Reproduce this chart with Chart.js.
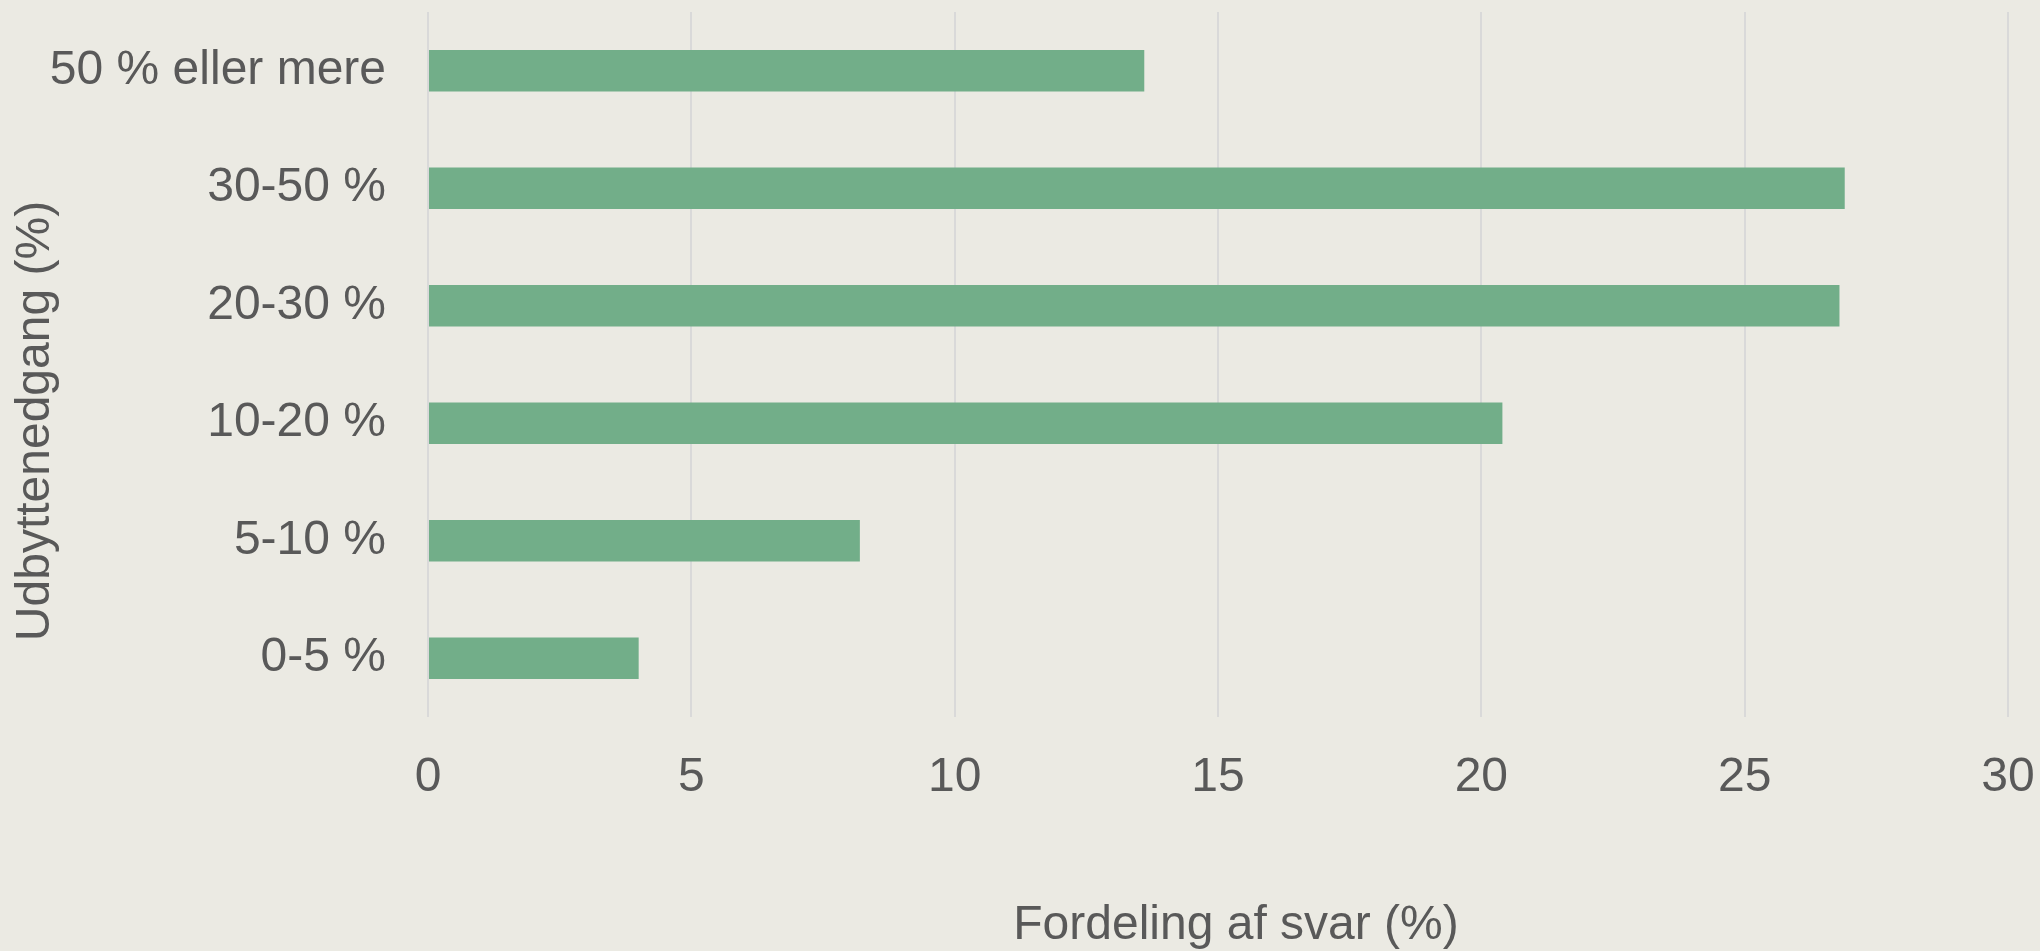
<!DOCTYPE html>
<html>
<head>
<meta charset="utf-8">
<script src="https://cdn.jsdelivr.net/npm/chart.js@4"></script>
<style>
  html, body { margin: 0; padding: 0; background: #ebeae3; }
  #wrap { width: 2040px; height: 951px; }
</style>
</head>
<body>
<div id="wrap"><canvas id="myChart" width="2040" height="951"></canvas></div>
<script>
const categories = ['50 % eller mere', '30-50 %', '20-30 %', '10-20 %', '5-10 %', '0-5 %'];
const shares = [13.6, 26.9, 26.8, 20.4, 8.2, 4.0];
const xTicks = [0, 5, 10, 15, 20, 25, 30];
const xTitle = 'Fordeling af svar (%)';
const yTitle = 'Udbyttenedgang (%)';

const textColor = '#595959';
const fontFamily = '"Liberation Sans", Arial, sans-serif';

// axis titles drawn by hand so they sit where the original has them
const axisTitlePlugin = {
  id: 'axisTitles',
  afterDraw(chart) {
    const ctx = chart.ctx;
    ctx.save();
    ctx.font = '48px ' + fontFamily;
    ctx.fillStyle = textColor;
    ctx.textAlign = 'center';
    ctx.textBaseline = 'middle';
    ctx.fillText(xTitle, 1236, 926);
    ctx.translate(36, 421);
    ctx.rotate(-Math.PI / 2);
    ctx.fillText(yTitle, 0, 0);
    ctx.restore();
  }
};

Chart.defaults.font.family = fontFamily;
Chart.defaults.color = textColor;

const ctx = document.getElementById('myChart').getContext('2d');
new Chart(ctx, {
  type: 'bar',
  data: {
    labels: categories,
    datasets: [{
      data: shares,
      backgroundColor: '#72ae89',
      borderWidth: 0,
      categoryPercentage: 1,
      barPercentage: 0.354
    }]
  },
  options: {
    indexAxis: 'y',
    responsive: false,
    animation: false,
    layout: { padding: { top: 12, right: 32, bottom: 0, left: 12 } },
    plugins: {
      legend: { display: false },
      tooltip: { enabled: false }
    },
    scales: {
      x: {
        min: 0,
        max: 30,
        afterBuildTicks(scale) {
          scale.ticks = xTicks.map(v => ({ value: v }));
        },
        afterFit(scale) {
          scale.height = 234;
          scale.paddingLeft = 0;
          scale.paddingRight = 0;
        },
        grid: { color: '#d9d9d9', lineWidth: 2, drawTicks: false },
        border: { display: false },
        ticks: { padding: 32, font: { size: 48 }, color: textColor, maxRotation: 0 }
      },
      y: {
        afterFit(scale) {
          scale.width = 416;
          scale.paddingTop = 0;
          scale.paddingBottom = 0;
        },
        grid: { display: false, drawTicks: false },
        border: { display: false },
        ticks: { padding: 42, font: { size: 48 }, color: textColor }
      }
    }
  },
  plugins: [axisTitlePlugin]
});
</script>
</body>
</html>
